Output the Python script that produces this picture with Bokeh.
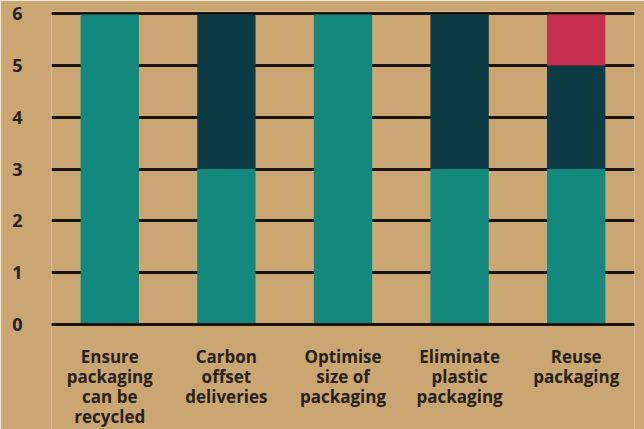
from bokeh.plotting import figure
from bokeh.models import FixedTicker, Span, Range1d
from bokeh.core.properties import value
from bokeh.embed import file_html
from bokeh.resources import INLINE

categories = ["Ensure\npackaging\ncan be\nrecycled", "Carbon\noffset\ndeliveries",
              "Optimise\nsize of\npackaging", "Eliminate\nplastic\npackaging", "Reuse\npackaging"]
teal = [6, 3, 6, 3, 3]
dark = [0, 3, 0, 3, 2]
crimson = [0, 0, 0, 0, 1]
y_ticks = [0, 1, 2, 3, 4, 5, 6]

BG = "#c9a672"
TXT = "#2a211b"

p = figure(x_range=categories, y_range=Range1d(-2.026, 6.04), width=644, height=429,
           output_backend="svg", toolbar_location=None,
           min_border_left=51, min_border_right=10, min_border_top=11, min_border_bottom=0)
p.background_fill_color = BG
p.border_fill_color = BG
p.outline_line_color = None

data = dict(cat=categories, teal=teal, dark=dark, crimson=crimson)
p.vbar_stack(["teal", "dark", "crimson"], x="cat", width=0.5, source=data,
             color=["#13887c", "#0c3a45", "#c5304f"], line_color=None)

# category labels under the bars
p.text(x=categories, y=[0] * len(categories), text=categories,
       text_align="center", text_baseline="top", y_offset=20,
       text_font=value("Open Sans"), text_font_style="bold", text_font_size="17px",
       text_color=TXT, text_line_height=0.88)

p.xaxis.visible = False
p.xgrid.grid_line_color = None
p.ygrid.ticker = FixedTicker(ticks=y_ticks)
p.ygrid.grid_line_color = "#1a1411"
p.ygrid.grid_line_width = 3
p.yaxis.ticker = FixedTicker(ticks=y_ticks)

for loc, w in [(0, 3), (6, 2)]:
    p.add_layout(Span(location=loc, dimension="width", line_color="#1a1411", line_width=w, level="overlay"))

ax = p.yaxis
ax.axis_line_color = None
ax.major_tick_line_color = None
ax.minor_tick_line_color = None
ax.major_tick_out = 0
ax.major_tick_in = 0
ax.major_label_text_font = "Open Sans"
ax.major_label_text_font_style = "bold"
ax.major_label_text_color = TXT
ax.major_label_text_font_size = "18px"
ax.major_label_standoff = 29

open("out.html", "w").write(file_html(p, INLINE))
